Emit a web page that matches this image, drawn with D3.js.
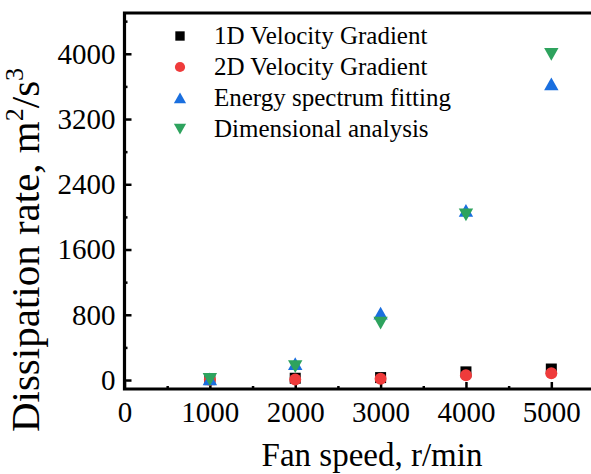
<!DOCTYPE html>
<html>
<head>
<meta charset="utf-8">
<script src="https://cdn.jsdelivr.net/npm/d3@7"></script>
<style>
  body { margin: 0; background: #fff; }
  svg { display: block; font-family: "Liberation Serif", "Times New Roman", serif; }
</style>
</head>
<body>
<div id="chart"></div>
<script>
// fan speeds (r/min)
const speeds = [1000, 2000, 3000, 4000, 5000];
// dissipation rate, m2/s3
const grad1D = [5, 22, 30, 100, 135];
const grad2D = [3, 6, 15, 60, 83];
const spectrum = [12, 200, 820, 2080, 3630];
const dimensional = [8, 165, 700, 2025, 3995];

const xTicks = [0, 1000, 2000, 3000, 4000, 5000];
const yTicks = [0, 800, 1600, 2400, 3200, 4000];

const series = [
  { name: "1D Velocity Gradient", values: grad1D, shape: "square", color: "#000000" },
  { name: "2D Velocity Gradient", values: grad2D, shape: "circle", color: "#ef3b3b" },
  { name: "Energy spectrum fitting", values: spectrum, shape: "up", color: "#1a6fdf" },
  { name: "Dimensional analysis", values: dimensional, shape: "down", color: "#2ea35e" }
];

const w = 591, h = 474;
const serif = '"Liberation Serif", "Times New Roman", serif';

const x = d3.scaleLinear().domain([0, 5500]).range([124.5, 594]);
const y = d3.scaleLinear().domain([-110, 4500]).range([389, 13]);

const svg = d3.select("#chart").append("svg")
  .attr("width", w)
  .attr("height", h);

// marker path generator, centred on 0,0
function marker(shape) {
  if (shape === "square") return "M-5.5,-5.5H5.5V5.5H-5.5Z";
  if (shape === "circle") return d3.symbol(d3.symbolCircle, 36 * Math.PI)();
  if (shape === "up") return "M0,-6.5L7.2,6.3H-7.2Z";
  return "M0,6.5L7.2,-6.3H-7.2Z";
}

function styleAxis(g) {
  g.attr("font-family", serif);
  g.select(".domain").remove();
  g.selectAll("line").attr("stroke-width", 2.5);
  g.selectAll("text").attr("font-size", 29).attr("fill", "#000");
}

// minor ticks
svg.append("g")
  .attr("transform", `translate(${x(0)},0)`)
  .call(d3.axisLeft(y).tickValues(d3.range(400, 4800, 800)).tickSize(-3).tickFormat(""))
  .call(styleAxis);

svg.append("g")
  .attr("transform", `translate(0,${y.range()[0]})`)
  .call(d3.axisBottom(x).tickValues(d3.range(500, 5500, 1000)).tickSize(-3).tickFormat(""))
  .call(styleAxis);

// major ticks
svg.append("g")
  .attr("transform", `translate(${x(0)},0)`)
  .call(d3.axisLeft(y).tickValues(yTicks).tickSize(-7).tickPadding(9).tickFormat(d3.format("d")))
  .call(styleAxis);

svg.append("g")
  .attr("transform", `translate(0,${y.range()[0]})`)
  .call(d3.axisBottom(x).tickValues(xTicks).tickSize(-7).tickPadding(12).tickFormat(d3.format("d")))
  .call(styleAxis);

// frame
svg.append("path")
  .attr("d", `M${x(5500)},${y(4500)}H${x(0)}V${y(-110)}H${x(5500)}`)
  .attr("fill", "none")
  .attr("stroke", "#000")
  .attr("stroke-width", 3.2);

// points
series.forEach(s => {
  svg.append("g").selectAll("path")
    .data(speeds.map((v, i) => [v, s.values[i]]))
    .enter()
    .append("path")
    .attr("d", marker(s.shape))
    .attr("transform", d => `translate(${x(d[0])},${y(d[1])})`)
    .attr("fill", s.color);
});

// legend
const legend = svg.append("g");
series.forEach((s, i) => {
  const ly = 36 + i * 31;
  legend.append("path")
    .attr("d", marker(s.shape))
    .attr("transform", `translate(180,${ly}) scale(0.85)`)
    .attr("fill", s.color);
  legend.append("text")
    .attr("x", 214)
    .attr("y", ly + 8)
    .attr("font-size", 25)
    .text(s.name);
});

// axis titles
svg.append("text")
  .attr("x", 372)
  .attr("y", 466)
  .attr("text-anchor", "middle")
  .attr("font-size", 33)
  .text("Fan speed, r/min");

const yt = svg.append("text")
  .attr("transform", "translate(39,250) rotate(-90)")
  .attr("text-anchor", "middle")
  .attr("font-size", 41);
yt.append("tspan").text("Dissipation rate, m");
yt.append("tspan").attr("dy", -16).attr("font-size", 26).text("2");
yt.append("tspan").attr("dy", 16).text("/s");
yt.append("tspan").attr("dy", -16).attr("font-size", 26).text("3");
</script>
</body>
</html>
